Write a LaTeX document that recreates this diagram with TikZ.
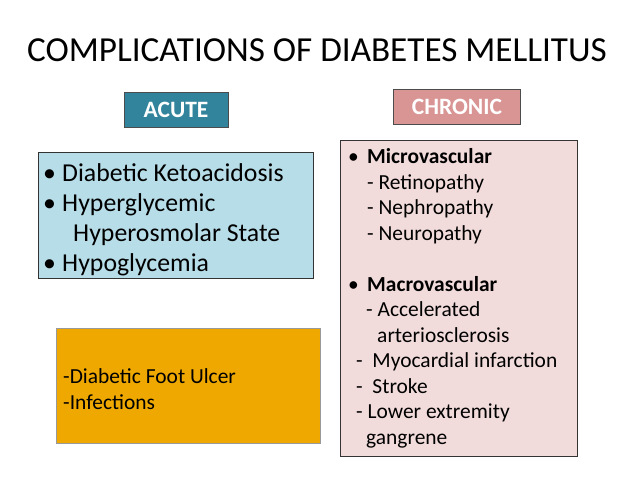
\documentclass[tikz,border=0pt]{standalone}
\usepackage{fontspec}
\setmainfont{Carlito}
\definecolor{acuteteal}{HTML}{31849B}
\definecolor{chronicpink}{HTML}{D99594}
\definecolor{lightblue}{HTML}{B7DDE8}
\definecolor{lightpink}{HTML}{F2DCDB}
\definecolor{amber}{HTML}{EEA800}
\tikzset{
  head/.style={draw=black!70, text=white, font=\fontsize{20}{24}\selectfont\bfseries, inner sep=0pt},
  item/.style={anchor=base west, inner sep=0pt},
  big/.style={item, font=\fontsize{22}{26}\selectfont},
  small/.style={item, font=\fontsize{18.3}{22}\selectfont}
}
\begin{document}
\begin{tikzpicture}[x=0.03cm, y=-0.03cm]
\useasboundingbox (0,0) rectangle (638,479);
% title
\node (title) at (317,50) {\fontsize{30}{34}\selectfont COMPLICATIONS OF DIABETES MELLITUS};

% headers
\node[head, fill=acuteteal, minimum width=104*0.03cm, minimum height=35*0.03cm] (acute) at (176,110) {ACUTE};
\node[head, fill=chronicpink, minimum width=127*0.03cm, minimum height=35*0.03cm] (chronic) at (457,107) {CHRONIC};

% boxes
\draw[black!80, fill=lightblue] (38,152) rectangle (313,278);
\draw[black!80, fill=lightpink] (340,140) rectangle (577,456);
\draw[black!40, fill=amber] (56,328) rectangle (320,443);

% acute list
\node[big] (a1) at (43,181) {•};
\node[big] (a1t) at (62,181) {Diabetic Ketoacidosis};
\node[big] (a2) at (43,211) {•};
\node[big] (a2t) at (62,211) {Hyperglycemic};
\node[big] (a2b) at (73,241) {Hyperosmolar State};
\node[big] (a3) at (43,271) {•};
\node[big] (a3t) at (62,271) {Hypoglycemia};

% other
\node[small] (o1) at (63,383) {-Diabetic Foot Ulcer};
\node[small] (o2) at (63,409) {-Infections};

% chronic list
\node[small] (c1) at (348,163) {•};
\node[small] (c1t) at (367,163) {\textbf{Microvascular}};
\node[small] (c2) at (367,189) {- Retinopathy};
\node[small] (c3) at (367,214) {- Nephropathy};
\node[small] (c4) at (367,240) {- Neuropathy};
\node[small] (c5) at (348,291) {•};
\node[small] (c5t) at (367,291) {\textbf{Macrovascular}};
\node[small] (c6) at (366,316) {- Accelerated};
\node[small] (c7) at (377,342) {arteriosclerosis};
\node[small] (c8) at (356,367) {-\ \ Myocardial infarction};
\node[small] (c9) at (356,393) {-\ \ Stroke};
\node[small] (c10) at (356,418) {- Lower extremity};
\node[small] (c11) at (366,444) {gangrene};
\end{tikzpicture}
\end{document}
